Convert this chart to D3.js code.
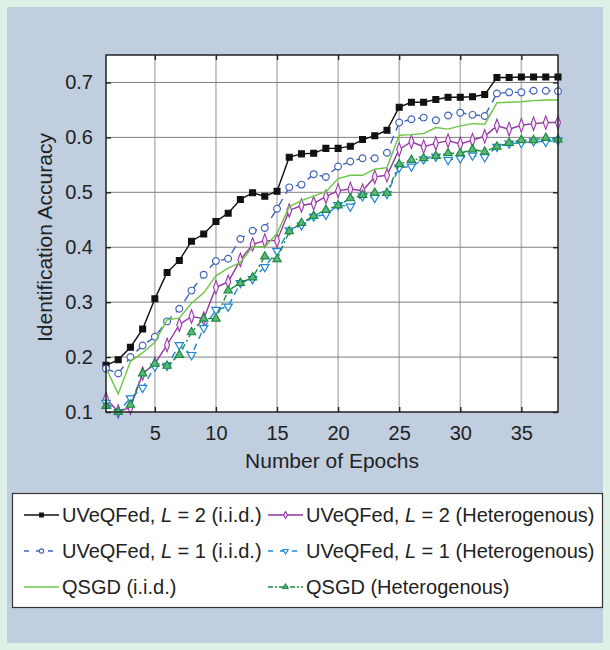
<!DOCTYPE html>
<html>
<head>
<meta charset="utf-8">
<script src="https://cdn.jsdelivr.net/npm/d3@7"></script>
<style>
  body { margin: 0; background: #dff0e6; }
  svg { display: block; font-family: "Liberation Sans", Arial, sans-serif; }
</style>
</head>
<body>
<div class="container"></div>
<script>
"use strict";

// x values
const epochs = [1, 2, 3, 4, 5, 6, 7, 8, 9, 10, 11, 12, 13, 14, 15, 16, 17, 18, 19,
  20, 21, 22, 23, 24, 25, 26, 27, 28, 29, 30, 31, 32, 33, 34, 35, 36, 37, 38];

// accuracy per epoch
const l2Iid = [0.185, 0.195, 0.218, 0.251, 0.306, 0.354, 0.376, 0.411, 0.424, 0.447,
  0.462, 0.487, 0.499, 0.493, 0.502, 0.564, 0.570, 0.571, 0.580, 0.580, 0.584, 0.596,
  0.603, 0.613, 0.655, 0.664, 0.664, 0.669, 0.673, 0.673, 0.674, 0.678, 0.709, 0.709,
  0.710, 0.710, 0.710, 0.710];
const l2Het = [0.124, 0.101, 0.108, 0.170, 0.188, 0.222, 0.259, 0.274, 0.270, 0.327,
  0.337, 0.377, 0.405, 0.412, 0.412, 0.467, 0.476, 0.480, 0.492, 0.503, 0.506, 0.503,
  0.528, 0.531, 0.578, 0.592, 0.583, 0.589, 0.594, 0.588, 0.595, 0.602, 0.621, 0.615,
  0.622, 0.625, 0.627, 0.627];
const l1Iid = [0.179, 0.170, 0.200, 0.221, 0.237, 0.265, 0.288, 0.321, 0.350, 0.375,
  0.379, 0.415, 0.430, 0.435, 0.470, 0.509, 0.514, 0.533, 0.528, 0.547, 0.556, 0.562,
  0.562, 0.572, 0.627, 0.633, 0.636, 0.631, 0.640, 0.645, 0.641, 0.639, 0.680, 0.682,
  0.682, 0.685, 0.685, 0.684];
const l1Het = [0.117, 0.100, 0.125, 0.144, 0.183, 0.184, 0.222, 0.204, 0.253, 0.286,
  0.292, 0.335, 0.342, 0.364, 0.393, 0.431, 0.440, 0.456, 0.459, 0.477, 0.474, 0.493,
  0.490, 0.497, 0.545, 0.547, 0.560, 0.565, 0.559, 0.562, 0.567, 0.564, 0.583, 0.589,
  0.590, 0.593, 0.592, 0.595];
const qsgdIid = [0.180, 0.133, 0.192, 0.208, 0.227, 0.268, 0.271, 0.298, 0.317, 0.348,
  0.362, 0.372, 0.401, 0.401, 0.425, 0.474, 0.485, 0.493, 0.501, 0.525, 0.531, 0.531,
  0.542, 0.545, 0.604, 0.605, 0.607, 0.618, 0.615, 0.621, 0.625, 0.624, 0.663, 0.664,
  0.665, 0.667, 0.668, 0.668];
const qsgdHet = [0.111, 0.100, 0.113, 0.170, 0.188, 0.184, 0.204, 0.245, 0.270, 0.270,
  0.321, 0.335, 0.345, 0.383, 0.378, 0.429, 0.444, 0.457, 0.468, 0.476, 0.489, 0.495,
  0.499, 0.499, 0.551, 0.559, 0.562, 0.566, 0.571, 0.571, 0.578, 0.574, 0.583, 0.590,
  0.595, 0.595, 0.599, 0.596];

const xTicks = [5, 10, 15, 20, 25, 30, 35];
const yTicks = [0.1, 0.2, 0.3, 0.4, 0.5, 0.6, 0.7];

const seriesNames = [
  ["UVeQFed, ", "L", " = 2 (i.i.d.)"],
  ["UVeQFed, ", "L", " = 2 (Heterogenous)"],
  ["UVeQFed, ", "L", " = 1 (i.i.d.)"],
  ["UVeQFed, ", "L", " = 1 (Heterogenous)"],
  ["QSGD (i.i.d.)", "", ""],
  ["QSGD (Heterogenous)", "", ""],
];

// styles for each line, same order as names
const styles = [
  { values: l2Iid, color: "#111", dash: null, marker: "square", fill: "#111", size: 34 },
  { values: l2Het, color: "#9534a5", dash: null, marker: "diamond", fill: "#f3e6f5", size: 34 },
  { values: l1Iid, color: "#4063b8", dash: "8,6", marker: "circle", fill: "#fff", size: 36 },
  { values: l1Het, color: "#1f86d2", dash: "7,5", marker: "down", fill: "#fff", size: 30 },
  { values: qsgdIid, color: "#6cc644", dash: null, marker: null, fill: null, size: 0 },
  { values: qsgdHet, color: "#1d8a45", dash: "6,3,2,3", marker: "up", fill: "#5cb878", size: 30 },
];

const symbolFor = {
  square: d3.symbolSquare,
  diamond: d3.symbolDiamond,
  circle: d3.symbolCircle,
  down: d3.symbolTriangle,
  up: d3.symbolTriangle,
};

const makePlot = () => {
  const W = 610;
  const H = 650;
  const margin = { top: 55, left: 106 };
  const width = 452;
  const height = 357;

  const svg = d3
    .select(".container")
    .append("svg")
    .attr("width", W)
    .attr("height", H);

  // blue panel
  svg.append("rect")
    .attr("x", 7).attr("y", 7)
    .attr("width", 596).attr("height", 636)
    .attr("fill", "#c0cedf");

  const g = svg.append("g")
    .attr("transform", "translate(" + margin.left + "," + margin.top + ")");

  const x = d3.scaleLinear().domain([1, 38]).range([0, width]);
  const y = d3.scaleLinear().domain([0.1, 0.75]).range([height, 0]);

  g.append("rect")
    .attr("width", width).attr("height", height)
    .attr("fill", "#fff");

  /////////////////////////////////////////////////////
  // grid
  g.append("g")
    .selectAll("line")
    .data(xTicks)
    .enter()
    .append("line")
    .attr("x1", (d) => x(d)).attr("x2", (d) => x(d))
    .attr("y1", 0).attr("y2", height)
    .attr("stroke", "#bcbcbc")
    .attr("stroke-width", 1.6);

  g.append("g")
    .selectAll("line")
    .data(yTicks.slice(1))
    .enter()
    .append("line")
    .attr("x1", 0).attr("x2", width)
    .attr("y1", (d) => y(d)).attr("y2", (d) => y(d))
    .attr("stroke", "#7f7f7f")
    .attr("stroke-width", 1);

  /////////////////////////////////////////////////////
  // axes, ticks point inward on all four sides
  const xAxis = d3.axisBottom(x).tickValues(xTicks).tickSizeInner(-5).tickSizeOuter(0).tickPadding(14);
  const yAxis = d3.axisLeft(y).tickValues(yTicks).tickSizeInner(-5).tickSizeOuter(0).tickPadding(13)
    .tickFormat(d3.format(".1f"));

  const gx = g.append("g").attr("transform", "translate(0," + height + ")").call(xAxis);
  const gy = g.append("g").call(yAxis);
  g.append("g").call(d3.axisTop(x).tickValues(xTicks).tickSizeInner(-5).tickSizeOuter(0).tickFormat(""));
  g.append("g").attr("transform", "translate(" + width + ",0)")
    .call(d3.axisRight(y).tickValues(yTicks).tickSizeInner(-5).tickSizeOuter(0).tickFormat(""));

  g.selectAll(".domain").remove();
  g.selectAll(".tick line").attr("stroke", "#222").attr("stroke-width", 1.4);
  [gx, gy].forEach((a) => a.selectAll("text")
    .attr("fill", "#222")
    .style("font-size", "20px"));

  /////////////////////////////////////////////////////
  // lines + markers
  const line = d3.line()
    .x((d, i) => x(epochs[i]))
    .y((d) => y(d));

  styles.forEach((s) => {
    g.append("path")
      .datum(s.values)
      .attr("fill", "none")
      .attr("stroke", s.color)
      .attr("stroke-width", 1.4)
      .attr("stroke-dasharray", s.dash)
      .attr("d", line);

    if (s.marker) {
      const sym = d3.symbol().type(symbolFor[s.marker]).size(s.size);
      g.append("g")
        .selectAll("path")
        .data(s.values)
        .enter()
        .append("path")
        .attr("d", sym)
        .attr("transform", (d, i) => "translate(" + x(epochs[i]) + "," + y(d) + ")" +
          (s.marker === "diamond" ? " scale(0.8,1.25)" : "") +
          (s.marker === "down" ? " rotate(180)" : ""))
        .attr("fill", s.fill)
        .attr("stroke", s.color)
        .attr("stroke-width", 1.2);
    }
  });

  // box
  g.append("rect")
    .attr("width", width).attr("height", height)
    .attr("fill", "none")
    .attr("stroke", "#222")
    .attr("stroke-width", 1.5);

  /////////////////////////////////////////////////////
  // axis titles
  svg.append("text")
    .attr("x", margin.left + width / 2)
    .attr("y", 468)
    .attr("text-anchor", "middle")
    .attr("fill", "#222")
    .style("font-size", "21px")
    .text("Number of Epochs");

  svg.append("text")
    .attr("transform", "translate(52," + (margin.top + height / 2 + 4) + ") rotate(-90)")
    .attr("text-anchor", "middle")
    .attr("fill", "#222")
    .style("font-size", "21px")
    .text("Identification Accuracy");

  /////////////////////////////////////////////////////
  //LEGEND
  svg.append("rect")
    .attr("x", 12.5).attr("y", 493.5)
    .attr("width", 590).attr("height", 114)
    .attr("fill", "#fff")
    .attr("stroke", "#333")
    .attr("stroke-width", 1.2);

  const legend = svg.append("g")
    .selectAll("g")
    .data(styles)
    .enter()
    .append("g")
    .attr("transform", (d, i) =>
      "translate(" + (i % 2 === 0 ? 24 : 268) + "," + (515 + Math.floor(i / 2) * 36) + ")");

  legend.append("line")
    .attr("x1", 0).attr("x2", 35)
    .attr("stroke", (d) => d.color)
    .attr("stroke-width", 1.3)
    .attr("stroke-dasharray", (d) => (d.dash ? (d.dash === "6,3,2,3" ? "5,2,2,2" : "5,7") : null));

  legend.filter((d) => d.marker)
    .append("path")
    .attr("d", (d) => d3.symbol().type(symbolFor[d.marker]).size(d.size * 0.4)())
    .attr("transform", (d) => "translate(17.5,0)" + (d.marker === "down" ? " rotate(180)" : ""))
    .attr("fill", (d) => d.fill)
    .attr("stroke", (d) => d.color)
    .attr("stroke-width", 1.1);

  const label = legend.append("text")
    .attr("x", 38)
    .attr("y", 7)
    .attr("fill", "#222")
    .style("font-size", "20px");

  label.append("tspan").text((d, i) => seriesNames[i][0]);
  label.append("tspan").style("font-style", "italic").text((d, i) => seriesNames[i][1]);
  label.append("tspan").text((d, i) => seriesNames[i][2]);
};

makePlot();
</script>
</body>
</html>
